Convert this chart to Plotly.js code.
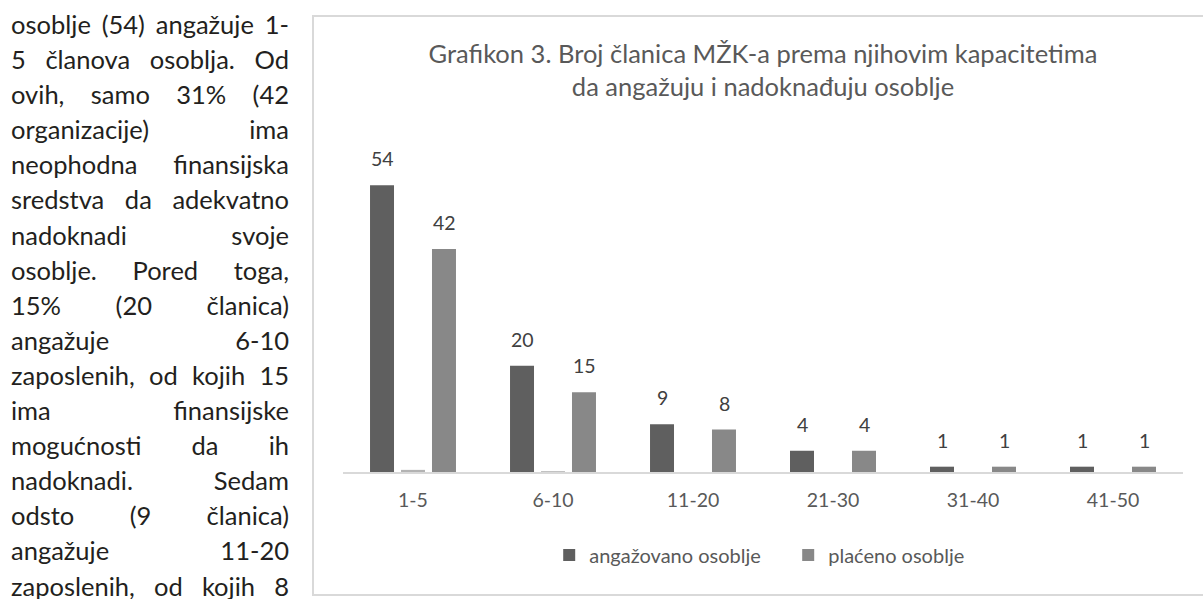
<!DOCTYPE html>
<html>
<head>
<meta charset="utf-8">
<script src="https://cdn.plot.ly/plotly-3.0.1.min.js"></script>
<style>
html,body{margin:0;padding:0;background:#fff;width:1203px;height:599px;overflow:hidden;}
#text{position:absolute;left:11px;top:7px;width:278px;font-family:Lato,"Noto Sans",sans-serif;font-size:25.5px;line-height:35.1px;color:#231f20;}
#text div{text-align:justify;text-align-last:justify;white-space:nowrap;height:35.1px;}
#text span{display:inline-block;width:278px;text-align:justify;text-align-last:justify;white-space:normal;}
#frame{position:absolute;left:312px;top:15px;width:1000px;height:577px;border:2px solid #d9d9d9;}
#chart{width:1000px;height:577px;}
</style>
</head>
<body>
<div id="text"></div>
<div id="frame"><div id="chart"></div></div>
<script>
var textLines = [
  "osoblje (54) angažuje 1-",
  "5 članova osoblja. Od",
  "ovih, samo 31% (42",
  "organizacije) ima",
  "neophodna finansijska",
  "sredstva da adekvatno",
  "nadoknadi svoje",
  "osoblje. Pored toga,",
  "15% (20 članica)",
  "angažuje 6-10",
  "zaposlenih, od kojih 15",
  "ima finansijske",
  "mogućnosti da ih",
  "nadoknadi. Sedam",
  "odsto (9 članica)",
  "angažuje 11-20",
  "zaposlenih, od kojih 8"
];
var categories = ["1-5", "6-10", "11-20", "21-30", "31-40", "41-50"];
var engagedName = "angažovano osoblje";
var paidName = "plaćeno osoblje";
var engaged = [54, 20, 9, 4, 1, 1];
var blankSeries = [0.4, 0.15, 0, 0, 0, 0];
var paid = [42, 15, 8, 4, 1, 1];
var titleText = "Grafikon 3. Broj članica MŽK-a prema njihovim kapacitetima<br>da angažuju i nadoknađuju osoblje";

var tdiv = document.getElementById('text');
var meas = document.createElement('span');
meas.style.cssText = 'position:absolute;visibility:hidden;white-space:nowrap;font:inherit;width:auto;display:inline;';
tdiv.appendChild(meas);
textLines.forEach(function(l){
  meas.textContent = l;
  var w = meas.getBoundingClientRect().width;
  var d = document.createElement('div');
  var s = document.createElement('span');
  s.textContent = l;
  if (w > 276) {
    var n = l.length;
    s.style.letterSpacing = ((276 - w) / n) + 'px';
  }
  d.appendChild(s);
  tdiv.appendChild(d);
});
tdiv.removeChild(meas);

var FONT = 'Lato, "Noto Sans", sans-serif';
var traces = [
  {type:'bar', name:engagedName, x:categories, y:engaged, marker:{color:'#5f5f5f'}, hoverinfo:'none'},
  {type:'bar', name:'', x:categories, y:blankSeries, marker:{color:'#b3b3b3'}, showlegend:false, hoverinfo:'none'},
  {type:'bar', name:paidName, x:categories, y:paid, marker:{color:'#888888'}, hoverinfo:'none'}
];
var annotations = [];
categories.forEach(function(c,i){
  annotations.push({xref:'x', yref:'y', x:c, y:engaged[i], text:String(engaged[i]), showarrow:false, yanchor:'bottom', xshift:-31, yshift:13, font:{family:FONT, size:19.5, color:'#404040'}});
  annotations.push({xref:'x', yref:'y', x:c, y:paid[i], text:String(paid[i]), showarrow:false, yanchor:'bottom', xshift:31, yshift:13, font:{family:FONT, size:19.5, color:'#404040'}});
});
var layout = {
  width:1000, height:577,
  margin:{l:29, r:131, t:123, b:122},
  paper_bgcolor:'rgba(0,0,0,0)', plot_bgcolor:'rgba(0,0,0,0)',
  font:{family:FONT, color:'#595959'},
  title:{text:titleText, x:0.5, xref:'paper', xanchor:'center', y:0.921, yref:'container', yanchor:'middle', font:{family:FONT, size:25.5, color:'#595959'}},
  barmode:'group', bargap:0.336, bargroupgap:0.226,
  xaxis:{type:'category', showline:true, linecolor:'#d9d9d9', linewidth:2, ticks:'', showgrid:false, tickfont:{family:FONT, size:19.5, color:'#595959'}, ticklabelstandoff:10},
  yaxis:{range:[0,62.5], visible:false, showgrid:false, zeroline:false},
  showlegend:true,
  legend:{orientation:'h', x:0.53, xanchor:'center', y:-0.25, yanchor:'middle', font:{family:FONT, size:20, color:'#595959'}, itemwidth:30, entrywidth:194},
  annotations:annotations
};
Plotly.newPlot('chart', traces, layout, {staticPlot:true});
</script>
</body>
</html>
